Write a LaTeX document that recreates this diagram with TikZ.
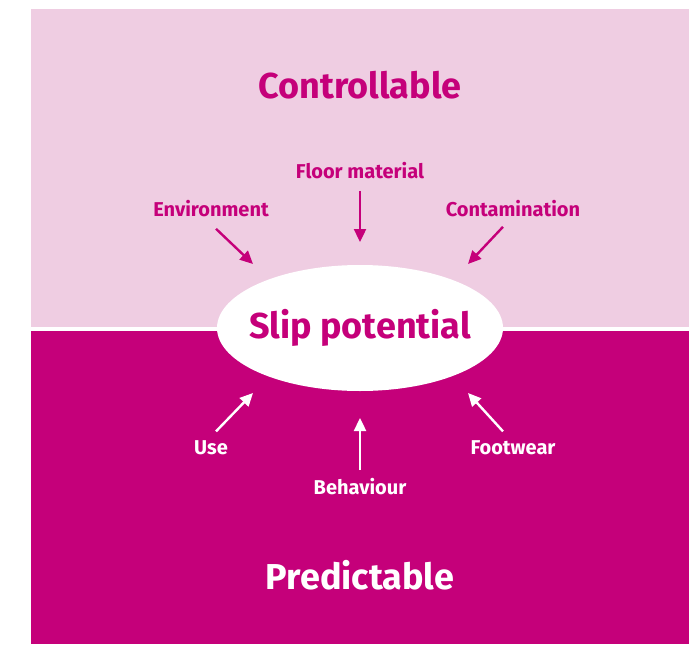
\documentclass[tikz,border=0pt]{standalone}
\usepackage{fontspec}
\setmainfont{Fira Sans}
\usetikzlibrary{shapes.geometric, arrows.meta, positioning}
\definecolor{lightpink}{HTML}{EFCDE2}
\definecolor{magenta}{HTML}{C5007A}

\begin{document}
\begin{tikzpicture}[
    x=1pt, y=-1pt,
    title/.style={font=\fontsize{36}{42}\selectfont\bfseries},
    factor/.style={font=\fontsize{20}{24}\selectfont\bfseries},
    arr/.style={-{Triangle[length=13pt, width=12pt]}, line width=2.4pt}
]
    \useasboundingbox (0,0) rectangle (700,644);

    % Panels
    \fill[lightpink] (31,9) rectangle (689,327);
    \fill[magenta] (31,331) rectangle (689,644);

    % Centre
    \coordinate (mid) at (360,328);
    \fill[white] (mid) ellipse [x radius=143, y radius=63];
    \node[title, text=magenta] (slip) at (mid) {Slip potential};

    % Titles
    \node[title, text=magenta] (ctrl) at (360,85) {Controllable};
    \node[title, text=white] (pred) at (360,575) {Predictable};

    % Controllable factors
    \node[factor, text=magenta] (env) at (211,209) {Environment};
    \node[factor, text=magenta] (floor) at (360,171) {Floor material};
    \node[factor, text=magenta] (cont) at (513,209) {Contamination};

    % Predictable factors
    \node[factor, text=white] (use) at (211,448) {Use};
    \node[factor, text=white] (behav) at (360,487) {Behaviour};
    \node[factor, text=white] (foot) at (513,448) {Footwear};

    % Arrow tips
    \coordinate (envTip) at (253,264);
    \coordinate (floorTip) at (360,242);
    \coordinate (contTip) at (468,264);
    \coordinate (useTip) at (253,393);
    \coordinate (behavTip) at (360,418);
    \coordinate (footTip) at (468,393);

    % Arrows
    \draw[arr, magenta] ([xshift=5pt, yshift=-8pt]env.south) -- (envTip);
    \draw[arr, magenta] ([yshift=-8pt]floor.south) -- (floorTip);
    \draw[arr, magenta] ([xshift=-10pt, yshift=-6pt]cont.south) -- (contTip);
    \draw[arr, white] ([xshift=5pt, yshift=6pt]use.north) -- (useTip);
    \draw[arr, white] ([yshift=5pt]behav.north) -- (behavTip);
    \draw[arr, white] ([xshift=-10pt, yshift=6pt]foot.north) -- (footTip);

\end{tikzpicture}
\end{document}
